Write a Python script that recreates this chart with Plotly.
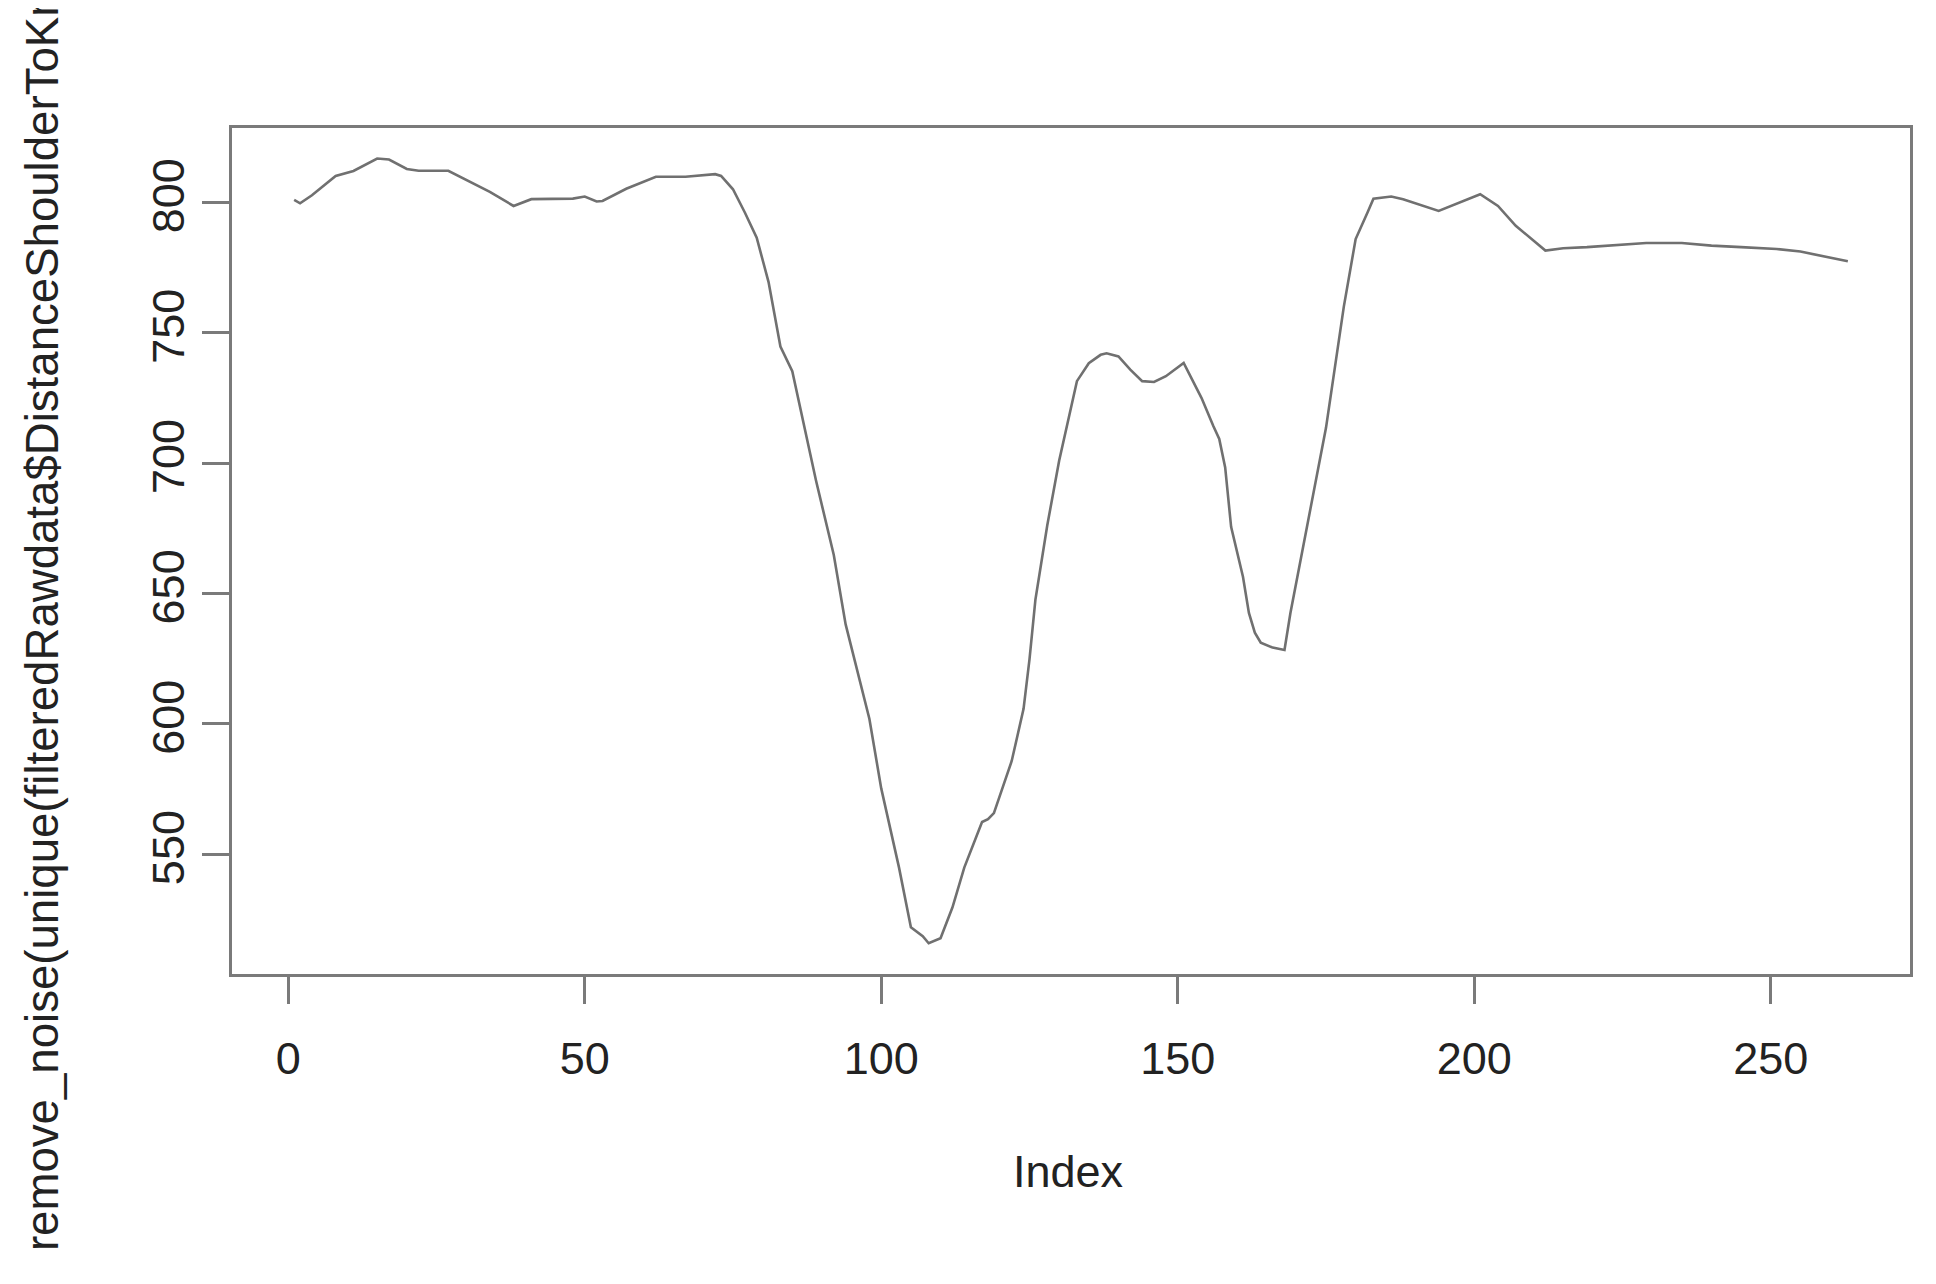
import plotly.graph_objects as go

# values (index, smoothed distance)
index = [1, 2, 4, 8, 11, 15, 17, 20, 22, 27, 34, 38, 41, 48, 50, 52, 53, 57, 62, 67,
         72, 73, 75, 77, 79, 81, 83, 85, 89, 92, 94, 97, 98, 100, 103, 105, 107, 108,
         110, 112, 114, 117, 118, 119, 122, 124, 125, 126, 128, 130, 132, 133, 135,
         137, 138, 140, 142, 144, 146, 148, 151, 154, 156, 157, 158, 159, 161, 162,
         163, 164, 166, 168, 169, 172, 175, 178, 180, 182, 183, 186, 188, 194, 201,
         204, 207, 212, 215, 219, 224, 229, 235, 240, 245, 251, 255, 259, 263]
distance = [801.0, 799.7, 802.8, 810.2, 812.1, 816.9, 816.5, 812.9, 812.2, 812.2,
            804.1, 798.7, 801.3, 801.5, 802.3, 800.4, 800.6, 805.3, 809.9, 809.9,
            810.9, 810.2, 805.1, 796.2, 786.5, 769.5, 744.8, 735.3, 693.4, 664.8,
            638.2, 611.5, 602.0, 575.3, 544.9, 522.0, 518.6, 515.9, 517.8, 529.6,
            544.9, 562.4, 563.5, 565.8, 585.8, 605.8, 624.8, 647.7, 676.2, 701.0,
            721.9, 731.5, 738.4, 741.6, 742.2, 741.0, 735.9, 731.5, 731.2, 733.4,
            738.5, 725.1, 714.3, 709.3, 698.4, 675.6, 656.5, 642.6, 635.0, 631.2,
            629.3, 628.4, 642.6, 678.1, 713.6, 760.0, 786.0, 796.2, 801.5, 802.3,
            801.3, 796.8, 803.2, 798.7, 791.1, 781.6, 782.5, 782.9, 783.7, 784.5,
            784.5, 783.5, 782.9, 782.2, 781.2, 779.4, 777.5]

x_ticks = [0, 50, 100, 150, 200, 250]
y_ticks = [550, 600, 650, 700, 750, 800]

x_title = "Index"
y_title = "remove_noise(unique(filteredRawdata$DistanceShoulderToKnee))"

font = "Liberation Sans, Arial, sans-serif"
grey = "#7a7a7a"

fig = go.Figure(go.Scatter(x=index, y=distance, mode="lines",
                           line=dict(color="#707070", width=2.6)))

axis = dict(showgrid=False, zeroline=False, showline=True, mirror=True,
            linecolor=grey, linewidth=3, ticks="outside", ticklen=27,
            tickwidth=3, tickcolor=grey,
            tickfont=dict(family=font, size=45, color="#222222"))

fig.update_layout(
    width=1936, height=1284,
    margin=dict(l=224, r=34, t=120, b=318),
    paper_bgcolor="white", plot_bgcolor="white",
    showlegend=False,
    xaxis=dict(axis, range=[-9.48, 273.48], tickvals=x_ticks, ticklabelstandoff=16),
    yaxis=dict(axis, range=[504.1, 828.6], tickvals=y_ticks, tickangle=-90),
    annotations=[
        dict(text=x_title, xref="paper", yref="paper", x=0.4985, y=-0.234,
             xanchor="center", yanchor="middle", showarrow=False,
             font=dict(family=font, size=45, color="#222222")),
        dict(text=y_title, xref="paper", yref="paper", x=-0.113, y=-0.33,
             xanchor="center", yanchor="bottom", textangle=-90, showarrow=False,
             font=dict(family=font, size=45.6, color="#222222")),
    ],
)

fig.write_html("out.html")
